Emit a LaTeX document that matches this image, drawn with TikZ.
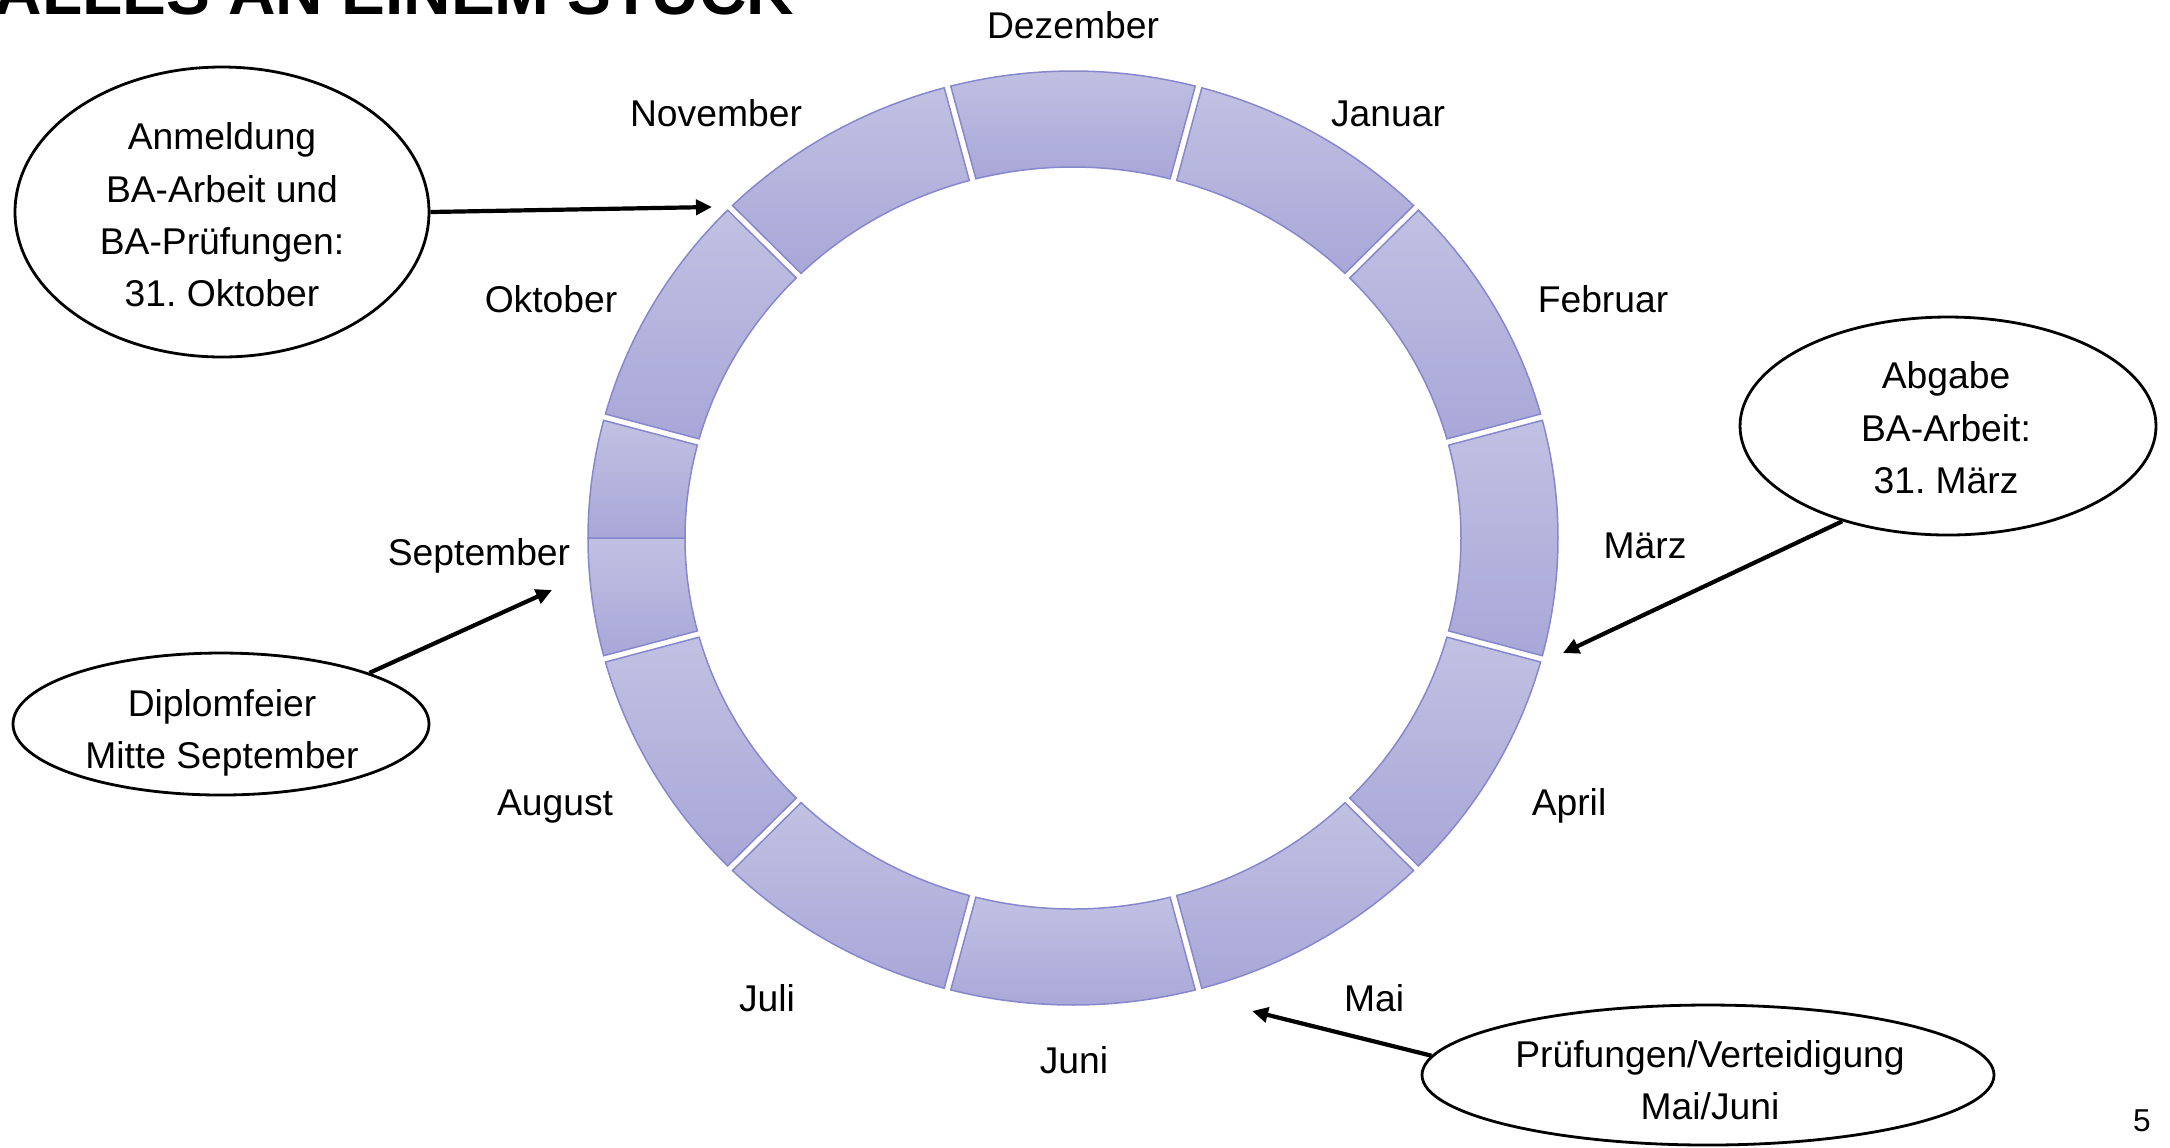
\documentclass[tikz,border=0pt]{standalone}
\usepackage{fontspec}
\setmainfont{Liberation Sans}
\usetikzlibrary{shapes.geometric,arrows.meta}
\definecolor{segtop}{RGB}{193,193,227}
\definecolor{segbot}{RGB}{168,167,216}
\definecolor{segline}{RGB}{135,135,205}
\frenchspacing
\begin{document}
\begin{tikzpicture}[x=0.1mm,y=-0.1mm,
  seg/.style={draw=segline,line width=0.15mm,top color=segtop,bottom color=segbot},
  month/.style={anchor=base,font=\fontsize{10.6pt}{14.9pt}\selectfont,inner sep=0},
  bubble/.style={draw,ellipse,line width=0.28mm,inner sep=0},
  btext/.style={align=center,font=\fontsize{10.6pt}{14.9pt}\selectfont,inner sep=0},
  pointer/.style={line width=0.42mm,-{Triangle[length=1.6mm,width=1.5mm]}}]
\useasboundingbox (0,0) rectangle (2170,1147);
% ring
\def\cx{1073}\def\cy{538}
\def\ro{485}\def\rop{467}\def\ri{388}\def\rip{371}
\def\dO{0.4}\def\dI{0.5}
\foreach \a in {0,30,60,90,120,150,210,240,270,300,330}{
  \path[seg] ({\cx+\ro*cos(\a-15+\dO)},{\cy+\rop*sin(\a-15+\dO)})
    arc[start angle=\a-15+\dO, end angle=\a+15-\dO, x radius=\ro, y radius=\rop]
    -- ({\cx+\ri*cos(\a+15-\dI)},{\cy+\rip*sin(\a+15-\dI)})
    arc[start angle=\a+15-\dI, end angle=\a-15+\dI, x radius=\ri, y radius=\rip]
    -- cycle;
}
% September in two halves
\path[seg] ({\cx+\ro*cos(165+\dO)},{\cy+\rop*sin(165+\dO)})
    arc[start angle=165+\dO, end angle=180, x radius=\ro, y radius=\rop]
    -- ({\cx-\ri},{\cy})
    arc[start angle=180, end angle=165+\dI, x radius=\ri, y radius=\rip]
    -- cycle;
\path[seg] ({\cx-\ro},{\cy})
    arc[start angle=180, end angle=195-\dO, x radius=\ro, y radius=\rop]
    -- ({\cx+\ri*cos(195-\dI)},{\cy+\rip*sin(195-\dI)})
    arc[start angle=195-\dI, end angle=180, x radius=\ri, y radius=\rip]
    -- cycle;
% month labels
\node[month] (dez) at (1073,38) {Dezember};
\node[month] (jan) at (1388,126) {Januar};
\node[month] (feb) at (1603,312) {Februar};
\node[month] (mar) at (1645,558) {März};
\node[month] (apr) at (1569,815) {April};
\node[month] (mai) at (1374,1011) {Mai};
\node[month] (jun) at (1074,1073) {Juni};
\node[month] (jul) at (767,1011) {Juli};
\node[month] (aug) at (555,815) {August};
\node[month] (sep) at (479,565) {September};
\node[month] (okt) at (551,312) {Oktober};
\node[month] (nov) at (716,126) {November};
% title and page number
\node[anchor=base west,inner sep=0,font=\bfseries\fontsize{18.7pt}{20pt}\selectfont] (title) at (-6,14) {ALLES AN EINEM STÜCK};
\node[anchor=base,inner sep=0,font=\fontsize{9pt}{10pt}\selectfont] (pnum) at (2142,1131) {5};
% bubbles
\node[bubble,minimum width=41.4mm,minimum height=29mm] (e1) at (222,212) {};
\node[btext] (t1) at (222,215) {Anmeldung\\BA-Arbeit und\\BA-Prüfungen:\\31. Oktober};
\node[bubble,minimum width=41.6mm,minimum height=21.8mm] (e2) at (1948,426) {};
\node[btext] (t2) at (1946,428) {Abgabe\\BA-Arbeit:\\31. März};
\node[bubble,minimum width=41.6mm,minimum height=14.2mm] (e3) at (221,724) {};
\node[btext] (t3) at (222,733) {Diplomfeier\\Mitte September};
\node[bubble,minimum width=57.2mm,minimum height=14mm] (e4) at (1708,1075) {};
\node[btext] (t4) at (1710,1080) {Prüfungen/Verteidigung\\Mai/Juni};
% pointers
\coordinate (p1) at (712,207);
\coordinate (p2) at (1563,653);
\coordinate (p3) at (552,590);
\coordinate (p4) at (1252,1011);
\draw[pointer] (e1.east) -- (p1);
\draw[pointer] (e2.222) -- (p2);
\draw[pointer] (e3.19) -- (p3);
\draw[pointer] (e4.176) -- (p4);
\end{tikzpicture}
\end{document}
